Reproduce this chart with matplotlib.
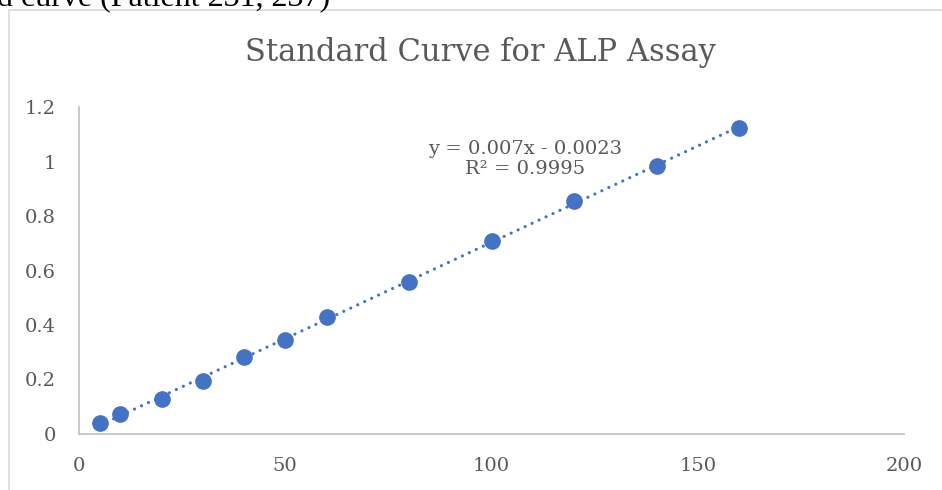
import numpy as np
import matplotlib
matplotlib.use("Agg")
import matplotlib.pyplot as plt
from matplotlib.patches import Rectangle

# Data
conc = [5, 10, 20, 30, 40, 50, 60, 80, 100, 120, 140, 160]
absorb = [0.040, 0.073, 0.128, 0.194, 0.283, 0.345, 0.429, 0.558, 0.708, 0.855, 0.983, 1.123]
xticks = [0, 50, 100, 150, 200]
yticks = [0, 0.2, 0.4, 0.6, 0.8, 1.0, 1.2]
ytick_labels = ["0", "0.2", "0.4", "0.6", "0.8", "1", "1.2"]
title = "Standard Curve for ALP Assay"
equation = "y = 0.007x - 0.0023\nR\u00b2 = 0.9995"
header = "d curve (Patient 231, 237)"

W, H = 942, 490
fig = plt.figure(figsize=(W / 100, H / 100), dpi=100)
serif = ["DejaVu Serif"]
times = ["Liberation Serif", "DejaVu Serif"]
grey = "#595959"
blue = "#4472C4"

# chart frame border
fig.add_artist(Rectangle((9 / W, -0.1), 1.2, 1 - 10 / H + 0.1, transform=fig.transFigure,
                         fill=False, edgecolor="#D9D9D9", linewidth=1.2))

# partial header text above chart (cut off at the top, as in the source)
fig.text(-3 / W, 1 - 6 / H, header, fontsize=23, family=times, color="black",
         ha="left", va="baseline")

ax = fig.add_axes([79 / W, 1 - 434 / H, (904 - 79) / W, (434 - 107) / H])
ax.set_xlim(0, 200)
ax.set_ylim(0, 1.2)

coef = np.polyfit(conc, absorb, 1)
xs = np.array([min(conc), max(conc)])
ax.plot(xs, np.polyval(coef, xs), linestyle=(0, (0.01, 2.4)), color=blue, linewidth=2.3,
        dash_capstyle="round", zorder=2)
ax.plot(conc, absorb, "o", color=blue, markersize=11, zorder=3)

for s in ["top", "right"]:
    ax.spines[s].set_visible(False)
for s in ["left", "bottom"]:
    ax.spines[s].set_color("#BFBFBF")
    ax.spines[s].set_linewidth(1.2)
ax.tick_params(length=0, labelcolor=grey, labelsize=14)
ax.tick_params(axis="y", pad=16.5)
ax.tick_params(axis="x", pad=16.5)
ax.set_xticks(xticks)
ax.set_yticks(yticks)
ax.set_yticklabels(ytick_labels)
for lab in ax.get_xticklabels() + ax.get_yticklabels():
    lab.set_family(serif)

fig.text(480 / W, 1 - 53 / H, title, fontsize=22, family=serif, color=grey,
         ha="center", va="center")
fig.text(525 / W, 1 - 159 / H, equation, fontsize=14, family=serif, color=grey,
         ha="center", va="center", linespacing=1.1)

fig.savefig("out.png", dpi=100)
